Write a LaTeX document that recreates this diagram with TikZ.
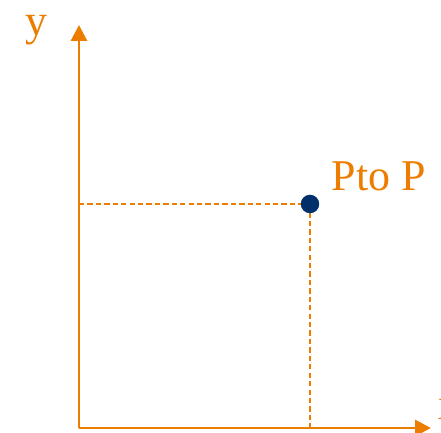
\documentclass[tikz,border=0pt]{standalone}
\usepackage{fontspec}
\setmainfont{Liberation Serif}
\usetikzlibrary{positioning,arrows.meta}
\definecolor{axisorange}{RGB}{237,125,0}
\definecolor{ptblue}{RGB}{0,47,108}

\begin{document}
\begin{tikzpicture}[
  x=0.02cm, y=0.02cm,
  axis/.style={draw=axisorange, line width=1.7pt, -{Triangle[length=9pt, width=9pt]}},
  guide/.style={draw=axisorange, line width=0.8pt, dash pattern=on 3pt off 1.8pt},
  lbl/.style={text=axisorange, font=\fontsize{25}{28}\selectfont, inner sep=0pt},
  dot/.style={circle, fill=ptblue, inner sep=0pt, minimum size=0.37cm}
]
\useasboundingbox (0,0) rectangle (441,433);

% Axes
\coordinate (O) at (79,5);
\coordinate (ytip) at (79,408);
\coordinate (xtip) at (431,5);
\draw[axis] (O) -- (ytip);
\draw[axis] (O) -- (xtip);

% Guides to the point
\coordinate (Pc) at (310,229);
\coordinate (Py) at (79,229);
\coordinate (Px) at (310,5);
\draw[guide] (Py) -- (Pc);
\draw[guide] (Pc) -- (Px);

% Point
\node[dot] (P) at (Pc) {};

% Labels
\node[lbl] (ylbl) at (36,403) {y};
\node[lbl] (plbl) at (379,257) {Pto P};
\node[lbl] (xlbl) at (449,24) {x};

\end{tikzpicture}
\end{document}
